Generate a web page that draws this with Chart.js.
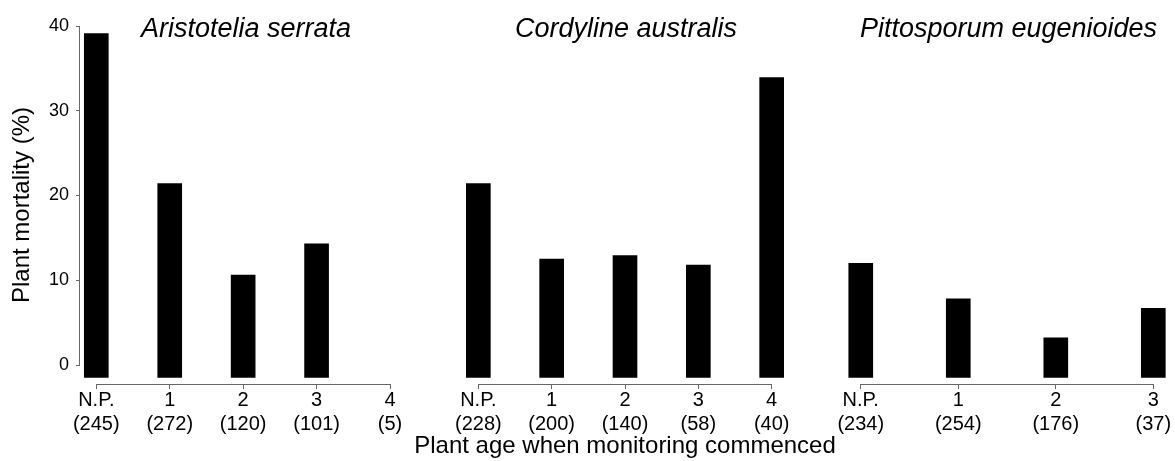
<!DOCTYPE html>
<html>
<head>
<meta charset="utf-8">
<script src="https://cdn.jsdelivr.net/npm/chart.js@4.4.1/dist/chart.umd.min.js"></script>
<style>
  html, body { margin: 0; padding: 0; background: #fff; }
  #wrap { position: relative; width: 1175px; height: 461px; }
  #wrap canvas { position: absolute; left: 0; top: 0; }
</style>
</head>
<body>
<div id="wrap">
  <canvas id="panelA" width="1175" height="461"></canvas>
  <canvas id="panelB" width="1175" height="461"></canvas>
  <canvas id="panelC" width="1175" height="461"></canvas>
</div>
<script>
// age classes (N.P. = not planted / unknown age) and sample sizes
const ageLabels = ['N.P.', '1', '2', '3', '4'];

const aristoteliaN = [245, 272, 120, 101, 5];
const aristoteliaMortality = [39.1, 21.4, 10.6, 14.3, null];

const cordylineN = [228, 200, 140, 58, 40];
const cordylineMortality = [21.4, 12.5, 12.9, 11.8, 33.9];

const pittosporumN = [234, 254, 176, 37];
const pittosporumMortality = [12.0, 7.8, 3.2, 6.7];

const yTicks = [0, 10, 20, 30, 40];

const FONT = '"Liberation Sans", Arial, Helvetica, sans-serif';
const AXIS_COLOR = '#666';
const Y_MIN = -2.24;   // axis sits a little below the zero tick
const BAR_BASE = -1.45; // bars start just under zero, like the original

const framePlugin = {
    id: 'panelFrame',
    afterDraw(chart, args, opts) {
        const { ctx, chartArea, scales } = chart;
        const xs = scales.x;
        const ys = scales.y;
        ctx.save();
        ctx.strokeStyle = AXIS_COLOR;
        ctx.lineWidth = 1;
        ctx.beginPath();
        const yb = Math.round(chartArea.bottom) + 0.5;
        ctx.moveTo(xs.getPixelForValue(0), yb);
        ctx.lineTo(xs.getPixelForValue(opts.count - 1), yb);
        if (opts.yLine) {
            const xl = Math.round(chartArea.left) - 0.5;
            ctx.moveTo(xl, ys.getPixelForValue(0));
            ctx.lineTo(xl, ys.getPixelForValue(yTicks[yTicks.length - 1]));
        }
        ctx.stroke();
        ctx.fillStyle = '#000';
        ctx.font = 'italic 27px ' + FONT;
        ctx.textAlign = 'center';
        ctx.textBaseline = 'alphabetic';
        ctx.fillText(opts.title, opts.titleX, 36.5);
        ctx.restore();
    }
};

function makePanel(canvasId, title, titleX, values, counts, xRange, pad, showY, xTitle) {
    const labels = ageLabels.slice(0, values.length);
    return new Chart(document.getElementById(canvasId), {
        type: 'bar',
        data: {
            datasets: [{
                data: values.map((v, i) => ({ x: i, y: v })),
                backgroundColor: '#000',
                borderWidth: 0,
                barThickness: 24,
                base: BAR_BASE,
                clip: false
            }]
        },
        options: {
            responsive: false,
            animation: false,
            layout: { padding: { left: pad[0], right: pad[1], top: 26, bottom: 0 } },
            plugins: {
                legend: { display: false },
                tooltip: { enabled: false },
                panelFrame: { title: title, titleX: titleX, count: labels.length, yLine: showY }
            },
            scales: {
                x: {
                    type: 'linear',
                    min: xRange[0],
                    max: xRange[1],
                    offset: false,
                    bounds: 'data',
                    afterBuildTicks: (s) => { s.ticks = labels.map((_, i) => ({ value: i })); },
                    afterFit: (s) => { s.height = 77; },
                    grid: { offset: false, drawOnChartArea: false, drawTicks: true, tickLength: 5, color: AXIS_COLOR },
                    border: { display: false },
                    ticks: {
                        autoSkip: false,
                        maxRotation: 0,
                        padding: -1,
                        color: '#000',
                        font: { family: FONT, size: 20, lineHeight: 1.2 },
                        callback: (v) => [labels[v], '(' + counts[v] + ')']
                    },
                    title: {
                        display: !!xTitle,
                        text: xTitle || '',
                        color: '#000',
                        font: { family: FONT, size: 24 },
                        padding: { top: 0, bottom: 0 }
                    }
                },
                y: {
                    display: showY,
                    min: Y_MIN,
                    max: 40,
                    afterBuildTicks: (s) => { s.ticks = yTicks.map(v => ({ value: v })); },
                    afterFit: (s) => { if (showY) s.width = 72; },
                    grid: { drawOnChartArea: false, drawTicks: true, tickLength: 4, color: AXIS_COLOR },
                    border: { display: false },
                    ticks: { padding: 7, color: '#000', font: { family: FONT, size: 18 } },
                    title: {
                        display: true,
                        text: 'Plant mortality (%)',
                        color: '#000',
                        font: { family: FONT, size: 24 },
                        padding: 0
                    }
                }
            }
        },
        plugins: [framePlugin]
    });
}

makePanel('panelA', 'Aristotelia serrata', 246, aristoteliaMortality, aristoteliaN,
    [-0.222, 4], [8, 785], true, null);
makePanel('panelB', 'Cordyline australis', 626, cordylineMortality, cordylineN,
    [-1, 5], [405, 330], false, 'Plant age when monitoring commenced');
makePanel('panelC', 'Pittosporum eugenioides', 1008.5, pittosporumMortality, pittosporumN,
    [-0.5, 3.2], [812, 2.2], false, null);
</script>
</body>
</html>
